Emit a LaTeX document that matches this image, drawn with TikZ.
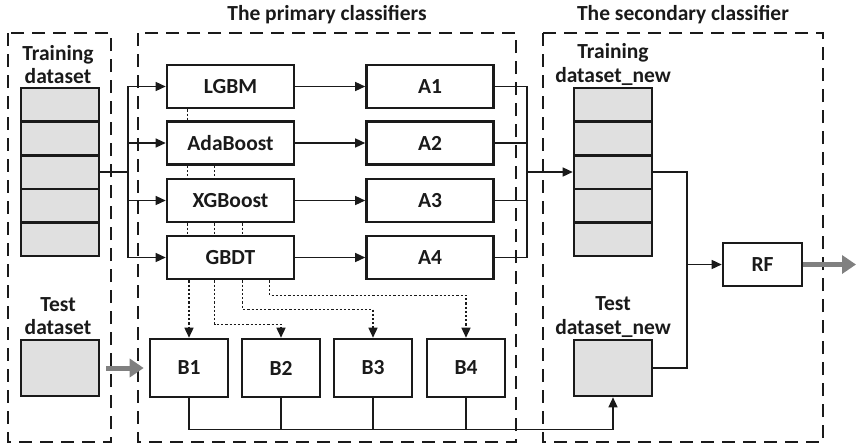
\documentclass[tikz,border=0pt]{standalone}
\usepackage{fontspec}
\setmainfont{Carlito}
\usepackage{xcolor}
\usetikzlibrary{arrows.meta, positioning, calc}

\definecolor{boxgray}{HTML}{E0E0E0}
\definecolor{linedark}{HTML}{1A1A1A}
\definecolor{flowgray}{HTML}{808080}

\tikzset{
    clf/.style={draw=linedark, line width=2.6pt, minimum width=127pt, minimum height=43pt, inner sep=0pt},
    outbox/.style={draw=linedark, line width=2.6pt, minimum width=78pt, minimum height=58pt, inner sep=0pt},
    row/.style={draw=linedark, fill=boxgray, line width=2.6pt, minimum width=78pt, minimum height=33.6pt, inner sep=0pt},
    lbl/.style={align=center, inner sep=0pt},
    group/.style={draw=linedark, line width=2.8pt, dash pattern=on 13pt off 8pt},
    conn/.style={draw=linedark, line width=1.4pt},
    arr/.style={conn, -{Triangle[length=10pt, width=9pt]}},
    dots/.style={draw=linedark, line width=1.5pt, dash pattern=on 2.2pt off 2pt},
    bigarr/.style={draw=flowgray, line width=5pt, -{Triangle[length=14pt, width=18pt]}}
}

\begin{document}
\begin{tikzpicture}[x=1pt, y=-1pt, font=\fontsize{21.5}{23.5}\selectfont\bfseries, text=linedark]
    \useasboundingbox (0,0) rectangle (856,445);

    % dashed groups
    \draw[group] (8,33) rectangle (111,442);
    \draw[group] (138,33) rectangle (516,442);
    \draw[group] (543,33) rectangle (823,442);
    \node[lbl] (ttlprim) at (327,15) {The primary classifiers};
    \node[lbl] (ttlsec) at (683,15) {The secondary classifier};

    % training / test sets
    \foreach \i/\ypos in {1/104.8, 2/138.4, 3/172.0, 4/205.6, 5/239.2} {
        \node[row] (tr\i) at (60,\ypos) {};
        \node[row] (nw\i) at (613,\ypos) {};
    }
    \node[row, minimum height=56pt] (test) at (60,368) {};
    \node[row, minimum height=56pt] (testnew) at (613,368) {};
    \node[lbl] (trlbl) at (58,64.5) {Training\\dataset};
    \node[lbl] (telbl) at (58,316) {Test\\dataset};
    \node[lbl] (nwlbl) at (613,64.5) {Training\\dataset\_new};
    \node[lbl] (tnlbl) at (613,317) {Test\\dataset\_new};

    % primary classifiers and their outputs
    \foreach \name/\txt/\aname/\atxt/\ypos in {lgbm/LGBM/a1/A1/86.5, ada/AdaBoost/a2/A2/143, xgb/XGBoost/a3/A3/200.5, gbdt/GBDT/a4/A4/257.5} {
        \node[clf] (\name) at (230.5,\ypos) {\txt};
        \node[clf] (\aname) at (430,\ypos) {\atxt};
        \draw[arr] (\name) -- (\aname);
    }
    \foreach \name/\xpos in {b1/189, b2/281, b3/373, b4/466} {
        \node[outbox] (\name) at (\xpos,368) {\MakeUppercase{\name}};
    }
    \node[clf, minimum width=79pt] (rf) at (762.5,264.5) {RF};

    % training data to the classifiers
    \coordinate (split) at (128,172);
    \draw[conn] (tr3.east) -- (split);
    \foreach \name in {lgbm, ada, xgb, gbdt} { \draw[arr] (split) |- (\name.west); }

    % dotted links between the classifiers
    \draw[dots] ([xshift=22pt]lgbm.south west) -- ([xshift=22pt]ada.north west);
    \foreach \dx in {22, 49} { \draw[dots] ([xshift=\dx pt]ada.south west) -- ([xshift=\dx pt]xgb.north west); }
    \foreach \dx in {22, 49, 77} { \draw[dots] ([xshift=\dx pt]xgb.south west) -- ([xshift=\dx pt]gbdt.north west); }
    \draw[dots, -{Triangle[length=10pt, width=9pt]}] (gbdt.south -| b1.north) -- (b1.north);
    \draw[dots, -{Triangle[length=10pt, width=9pt]}] ([xshift=49pt]gbdt.south west) -- ++(0,44) -| (b2.north);
    \draw[dots, -{Triangle[length=10pt, width=9pt]}] ([xshift=77pt]gbdt.south west) -- ++(0,29) -| (b3.north);
    \draw[dots, -{Triangle[length=10pt, width=9pt]}] ([xshift=104pt]gbdt.south west) -- ++(0,15) -| (b4.north);

    % outputs to the new data sets
    \coordinate (merge) at (527,172);
    \foreach \aname in {a1, a2, a3, a4} { \draw[conn] (\aname.east) -| (merge); }
    \draw[arr] (merge) -- (nw3.west);
    \draw[arr] (b1.south) -- ++(0,31) -| (testnew.south);
    \foreach \name in {b2, b3, b4} { \draw[conn] (\name.south) -- ++(0,31); }

    % secondary classifier
    \coordinate (join) at (687,264.5);
    \draw[conn] (nw3.east) -| (join);
    \draw[conn] (testnew.east) -| (join);
    \draw[arr] (join) -- (rf.west);
    \coordinate (result) at (856,264.5);

    \draw[bigarr, shorten <=6pt, shorten >=5pt] (test.east) -- (b1.west);
    \draw[bigarr] (rf.east) -- (result);
\end{tikzpicture}
\end{document}
